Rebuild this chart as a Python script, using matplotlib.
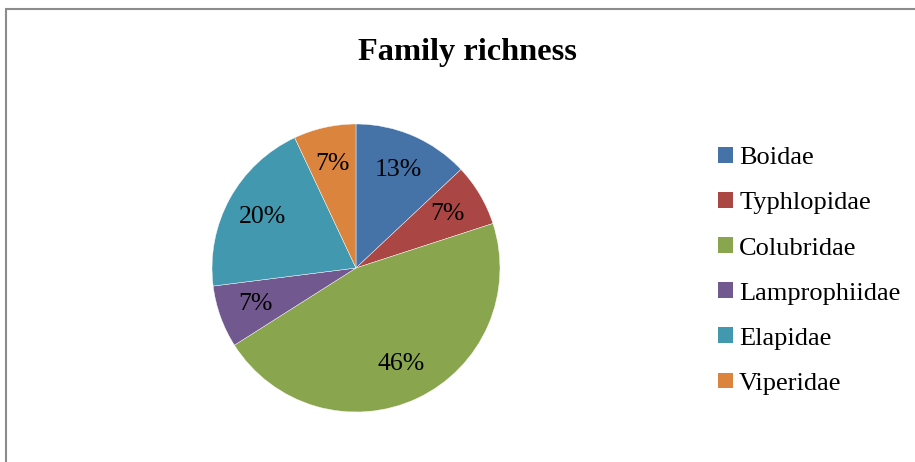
import matplotlib
matplotlib.use('Agg')
import matplotlib.pyplot as plt
from matplotlib.patches import Rectangle, Patch

families = ['Boidae', 'Typhlopidae', 'Colubridae', 'Lamprophiidae', 'Elapidae', 'Viperidae']
shares = [13, 7, 46, 7, 20, 7]
colors = ['#4572A7', '#AA4643', '#89A54E', '#71588F', '#4198AF', '#DB843D']
title = 'Family richness'

plt.rcParams['font.family'] = ['Liberation Serif', 'DejaVu Serif']

W, H = 915, 462
fig = plt.figure(figsize=(W / 100, H / 100), dpi=100)

# grey chart frame (cut off at right and bottom)
fig.patches.append(Rectangle((6 / W, -0.1), 1.2, 1 - 9 / H + 0.1, transform=fig.transFigure,
                             fill=False, edgecolor='#8c8c8c', linewidth=1.5))

# pie axes: centre (356, 268) px, radius 144 px
cx, cy, r = 356, 268, 144
ax = fig.add_axes([(cx - r) / W, (H - cy - r) / H, 2 * r / W, 2 * r / H])
wedges, texts = ax.pie(shares, colors=colors, startangle=90, counterclock=False,
                       labels=[f'{v}%' for v in shares], labeldistance=0.74,
                       wedgeprops=dict(edgecolor='white', linewidth=0.3),
                       textprops=dict(fontsize=18.5, color='black', ha='center', va='center'))
ax.set_xlim(-1, 1)
ax.set_ylim(-1, 1)
ax.set_aspect('auto')
ax.axis('off')

fig.text(467 / W, 1 - 60 / H, title, ha='center', va='baseline', fontsize=23.3, fontweight='bold')

handles = [Patch(facecolor=c, edgecolor='none') for c in colors]
fig.legend(handles, families, loc='upper left', bbox_to_anchor=(718 / W, 1 - 147 / H),
           frameon=False, fontsize=19, handlelength=0.55, handleheight=0.55,
           handletextpad=0.25, labelspacing=0.865, borderpad=0, borderaxespad=0)

fig.savefig('out.png', dpi=100)
